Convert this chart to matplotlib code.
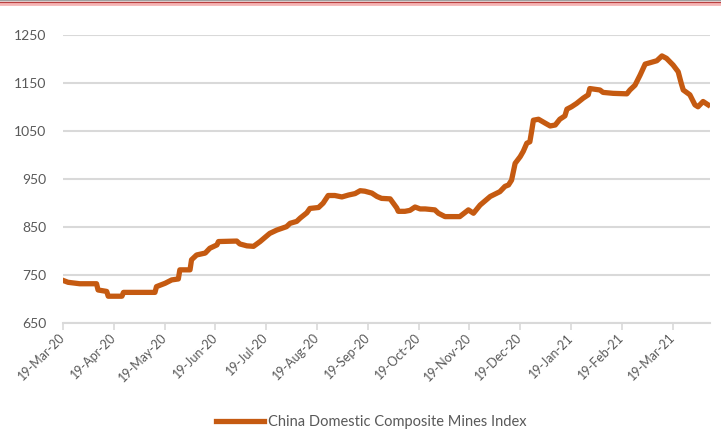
import matplotlib
matplotlib.use("Agg")
import matplotlib.pyplot as plt
from matplotlib.lines import Line2D
import matplotlib.transforms as mtransforms

plt.rcParams['font.family'] = ['Lato', 'DejaVu Sans']

# tick labels on the category axis (one every month)
month_labels = ['19-Mar-20', '19-Apr-20', '19-May-20', '19-Jun-20', '19-Jul-20',
                '19-Aug-20', '19-Sep-20', '19-Oct-20', '19-Nov-20', '19-Dec-20',
                '19-Jan-21', '19-Feb-21', '19-Mar-21']

# position in months after 19-Mar-20, index value
months = [0.00, 0.10, 0.33, 0.66, 0.69, 0.86, 0.89, 1.16, 1.19, 1.81,
          1.84, 2.01, 2.14, 2.27, 2.30, 2.50, 2.53, 2.63, 2.80, 2.89,
          3.03, 3.06, 3.42, 3.48, 3.62, 3.75, 3.88, 3.98, 4.07, 4.21,
          4.40, 4.47, 4.60, 4.67, 4.80, 4.86, 5.03, 5.12, 5.22, 5.35,
          5.49, 5.62, 5.75, 5.85, 5.94, 6.08, 6.18, 6.27, 6.44, 6.57,
          6.60, 6.73, 6.83, 6.93, 7.03, 7.13, 7.32, 7.39, 7.52, 7.81,
          7.98, 8.08, 8.21, 8.41, 8.60, 8.70, 8.77, 8.83, 8.90, 9.00,
          9.06, 9.13, 9.19, 9.23, 9.26, 9.36, 9.49, 9.59, 9.69, 9.78,
          9.88, 9.92, 10.01, 10.11, 10.24, 10.34, 10.37, 10.57, 10.63, 10.83,
          11.10, 11.16, 11.26, 11.36, 11.46, 11.56, 11.69, 11.79, 11.88, 12.01,
          12.11, 12.17, 12.21, 12.34, 12.44, 12.50, 12.60, 12.70]

index = [739, 735, 732, 732, 719, 716, 706, 706, 714, 714,
         726, 733, 740, 742, 761, 761, 782, 792, 796, 806,
         813, 820, 821, 815, 811, 810, 820, 829, 837, 844,
         851, 858, 862, 869, 880, 889, 891, 900, 916, 916,
         913, 917, 920, 926, 925, 921, 914, 910, 909, 890,
         883, 883, 885, 892, 888, 888, 886, 879, 872, 872,
         886, 879, 896, 914, 924, 935, 938, 948, 983, 997,
         1008, 1025, 1028, 1053, 1073, 1075, 1067, 1061, 1063, 1075,
         1082, 1096, 1101, 1108, 1119, 1126, 1139, 1136, 1131, 1129,
         1128, 1136, 1146, 1167, 1190, 1193, 1197, 1207, 1202, 1188,
         1174, 1150, 1136, 1126, 1105, 1101, 1112, 1105]

fig = plt.figure(figsize=(7.21, 4.36), dpi=100)
ax = fig.add_axes([0.0874, 0.259, 0.8976, 0.660])

ax.plot(months, index, color='#C55A11', lw=3.8, solid_joinstyle='round',
        label='China Domestic Composite Mines Index')

ax.set_ylim(650, 1250)
ax.set_yticks(range(650, 1251, 100))
ax.set_xlim(0, 12.74)
ax.set_xticks(range(len(month_labels)))
ax.set_xticklabels(month_labels, rotation=45, ha='right', va='center',
                   rotation_mode='anchor')
offset = mtransforms.ScaledTranslation(9 / 100, -6 / 100, fig.dpi_scale_trans)
for lab in ax.get_xticklabels():
    lab.set_transform(lab.get_transform() + offset)

ax.grid(axis='y', color='#D9D9D9', lw=1.5)
ax.set_axisbelow(True)
for s in ['top', 'right', 'left']:
    ax.spines[s].set_visible(False)
ax.spines['bottom'].set_color('#D9D9D9')
ax.spines['bottom'].set_linewidth(1.5)
ax.tick_params(axis='x', colors='#D9D9D9', length=5, width=1.2,
               labelcolor='#595959', labelsize=9, pad=4)
ax.tick_params(axis='y', length=0, labelcolor='#595959', labelsize=10, pad=12)

fig.legend(loc='center', bbox_to_anchor=(0.515, 0.033), frameon=False,
           fontsize=10.5, handlelength=3.3, handletextpad=0.3,
           labelcolor='#595959')

# thin red border along the top edge
for y, c, w in [(0.9995, '#A0A0A0', 1.0), (0.9965, '#B03A3A', 1.0),
                (0.9942, '#E06060', 1.0), (0.9905, '#F4B4B4', 2.0)]:
    fig.add_artist(Line2D([0, 1], [y, y], transform=fig.transFigure,
                          color=c, lw=w))

fig.savefig('out.png', dpi=100)
